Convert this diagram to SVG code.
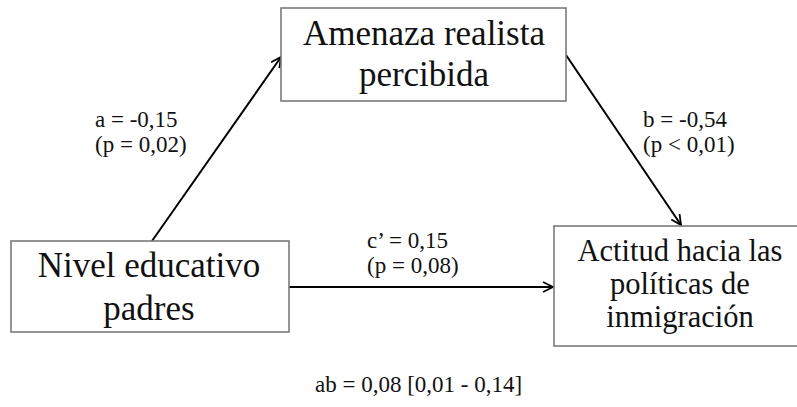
<svg xmlns="http://www.w3.org/2000/svg" width="797" height="407" viewBox="0 0 797 407">
<style>
.box{fill:#fff;stroke:#7a7a7a;stroke-width:1.6}
.nt{font-family:"Liberation Serif","Times New Roman",serif;font-size:35px;fill:#111;text-anchor:middle}
.nt2{font-family:"Liberation Serif","Times New Roman",serif;font-size:30.5px;fill:#111;text-anchor:middle}
.lb{font-family:"Liberation Serif","Times New Roman",serif;font-size:23px;fill:#111}
.ar{stroke:#000;stroke-width:2;fill:none;marker-end:url(#arr)}
</style>
<defs>
<marker id="arr" viewBox="0 0 12 12" refX="11" refY="6" markerWidth="12" markerHeight="12" markerUnits="userSpaceOnUse" orient="auto">
<path d="M1,1 L11,6 L1,11" fill="none" stroke="#000" stroke-width="1.8"/>
</marker>
</defs>
<rect width="797" height="407" fill="#fff"/>
<g id="connectors">
<line class="ar" x1="152" y1="241" x2="281" y2="57"/>
<line class="ar" x1="566" y1="55" x2="681" y2="225"/>
<line class="ar" x1="289" y1="287" x2="553" y2="287"/>
</g>
<g id="node-amenaza">
<rect class="box" x="281" y="8" width="285" height="93"/>
<text class="nt" x="424" y="45">Amenaza realista</text>
<text class="nt" x="424" y="86">percibida</text>
</g>
<g id="node-nivel">
<rect class="box" x="11" y="241" width="278" height="91"/>
<text class="nt" x="149" y="277">Nivel educativo</text>
<text class="nt" x="149" y="320">padres</text>
</g>
<g id="node-actitud">
<rect class="box" x="554" y="226" width="250" height="120"/>
<text class="nt2" x="680" y="261">Actitud hacia las</text>
<text class="nt2" x="680" y="294">políticas de</text>
<text class="nt2" x="680" y="327">inmigración</text>
</g>
<g id="labels">
<text class="lb" x="95" y="127">a = -0,15</text>
<text class="lb" x="95" y="152">(p = 0,02)</text>
<text class="lb" x="643" y="127">b = -0,54</text>
<text class="lb" x="643" y="152">(p &lt; 0,01)</text>
<text class="lb" x="367" y="248">c’ = 0,15</text>
<text class="lb" x="367" y="273">(p = 0,08)</text>
<text class="lb" x="315" y="392">ab = 0,08 [0,01 - 0,14]</text>
</g>
</svg>
